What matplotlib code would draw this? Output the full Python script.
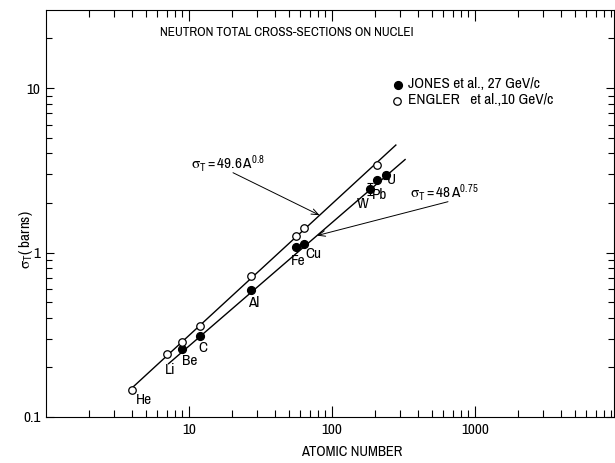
import numpy as np
import matplotlib
matplotlib.use("Agg")
import matplotlib.pyplot as plt
from matplotlib import font_manager
from matplotlib.ticker import LogLocator, NullFormatter, FixedLocator, FixedFormatter

# pick a narrow sans face if one is installed
FAMILY, STRETCH = "DejaVu Sans", "normal"
entries = font_manager.fontManager.ttflist
narrow_names = [e.name for e in entries
                if ("Narrow" in e.name or "Condensed" in e.name)
                and e.style == "normal" and e.weight in (400, "normal", "regular")]
condensed = [e for e in entries
             if str(e.stretch) in ("condensed", "semi-condensed", "extra-condensed")
             and e.style == "normal" and e.weight in (400, "normal", "regular")]
if narrow_names:
    FAMILY = sorted(narrow_names)[0]
elif condensed:
    FAMILY, STRETCH = condensed[0].name, str(condensed[0].stretch)

plt.rcParams["font.family"] = [FAMILY, "DejaVu Sans"]
plt.rcParams["font.stretch"] = STRETCH
plt.rcParams["mathtext.fontset"] = "custom"
plt.rcParams["mathtext.rm"] = f"{FAMILY}:stretch={STRETCH}"
plt.rcParams["mathtext.it"] = f"{FAMILY}:stretch={STRETCH}"
plt.rcParams["mathtext.default"] = "regular"

# ---- data ----
title = "NEUTRON TOTAL CROSS-SECTIONS ON NUCLEI"
engler_label = "ENGLER   et al.,10 GeV/c"
jones_label = "JONES et al., 27 GeV/c"

engler_A = [4, 7, 9, 12, 27, 56, 64, 207]
engler_sigma = [0.145, 0.24, 0.285, 0.355, 0.72, 1.26, 1.40, 3.38]

jones_A = [9, 12, 27, 56, 64, 184, 207, 238]
jones_sigma = [0.26, 0.31, 0.59, 1.08, 1.13, 2.43, 2.77, 2.94]
jones_err = [0, 0, 0, 0, 0, 0.2, 0, 0.15]

elements = ["He", "Li", "Be", "C", "Al", "Fe", "Cu", "W", "Pb", "U"]
element_A = [4, 7, 9, 12, 27, 56, 64, 184, 207, 238]
element_sigma = [0.145, 0.24, 0.26, 0.31, 0.59, 1.08, 1.13, 2.43, 2.77, 2.94]

# fits: sigma_T [mb] = c * A**p, plotted in barns
fit1_c, fit1_p = 49.6, 0.8
fit2_c, fit2_p = 48.0, 0.75
fit1_range = (4, 280)
fit2_range = (7.2, 325)

x_ticks = [10, 100, 1000]
x_ticklabels = ["10", "100", "1000"]
y_ticks = [0.1, 1, 10]
y_ticklabels = ["0.1", "1", "10"]


def fit(c, p, A):
    return c * np.asarray(A) ** p / 1000.0


W, H = 615, 463
FS = 11
fig = plt.figure(figsize=(W / 100, H / 100), dpi=100)
ax = fig.add_axes([46 / W, 1 - 417 / H, (614 - 46) / W, (417 - 10) / H])
ax.set_xscale("log")
ax.set_yscale("log")
ax.set_xlim(1, 9400)
ax.set_ylim(0.1, 29.8)

lw = 1.0
A1 = np.geomspace(*fit1_range, 50)
A2 = np.geomspace(*fit2_range, 50)
ax.plot(A1, fit(fit1_c, fit1_p, A1), color="black", lw=lw)
ax.plot(A2, fit(fit2_c, fit2_p, A2), color="black", lw=lw)

ax.errorbar(jones_A, jones_sigma, yerr=jones_err, fmt="o", ms=5.6,
            mfc="black", mec="black", ecolor="black", elinewidth=0.8,
            capsize=2, capthick=0.8, zorder=4)
ax.plot(engler_A, engler_sigma, "o", ms=5.4, mfc="white", mec="black",
        mew=0.9, zorder=5)

# element labels (offsets in pixels from the point)
label_offsets = {
    "He": (12, -10), "Li": (3.5, -16), "Be": (7, -12), "C": (2.5, -12),
    "Al": (3, -13), "Fe": (2, -13.5), "Cu": (9.5, -10), "W": (-7, -15),
    "Pb": (2.5, -15), "U": (6, -5),
}
for name, a, s in zip(elements, element_A, element_sigma):
    dx, dy = label_offsets[name]
    ax.annotate(name, (a, s), xytext=(dx * 0.72, dy * 0.72),
                textcoords="offset points", ha="center", va="center",
                fontsize=FS)

# legend entries
fig.lines.append(plt.Line2D([398 / W], [1 - 84.5 / H], marker="o", ms=5.6,
                            mfc="black", mec="black", transform=fig.transFigure))
fig.lines.append(plt.Line2D([397 / W], [1 - 100.5 / H], marker="o", ms=5.4,
                            mfc="white", mec="black", mew=0.9,
                            transform=fig.transFigure))
fig.text(408 / W, 1 - 84.5 / H, jones_label, fontsize=FS, va="center")
fig.text(408 / W, 1 - 100.5 / H, engler_label, fontsize=FS, va="center")

# title and axis labels
fig.text(287 / W, 1 - 33 / H, title, fontsize=9.6, ha="center", va="center")
fig.text(352 / W, 1 - 452 / H, "ATOMIC NUMBER", fontsize=10.5, ha="center",
         va="center")
fig.text(26 / W, 1 - 240 / H, r"$\sigma_T$( barns)", fontsize=FS,
         rotation=90, ha="center", va="center")

# fit annotations
arrow = dict(arrowstyle="->,head_length=0.5,head_width=0.2", color="black",
             lw=0.7, shrinkA=0, shrinkB=0)
ax.annotate("", xy=(82, fit(fit1_c, fit1_p, 82)),
            xytext=(233 / W, 1 - 172.7 / H), textcoords="figure fraction",
            arrowprops=arrow)
ax.annotate("", xy=(78.6, fit(fit2_c, fit2_p, 78.6)),
            xytext=(448 / W, 1 - 201.7 / H), textcoords="figure fraction",
            arrowprops=arrow)
fig.text(191 / W, 1 - 163 / H,
         r"$\sigma_T = 49.6\,A^{0.8}$", fontsize=FS, ha="left", va="center")
fig.text(410 / W, 1 - 192 / H,
         r"$\sigma_T{=}48\,A^{0.75}$", fontsize=FS, ha="left", va="center")

# ticks on all four sides, pointing inward
ax.xaxis.set_major_locator(FixedLocator(x_ticks))
ax.xaxis.set_major_formatter(FixedFormatter(x_ticklabels))
ax.xaxis.set_minor_locator(LogLocator(base=10, subs=np.arange(2, 10), numticks=20))
ax.xaxis.set_minor_formatter(NullFormatter())
ax.yaxis.set_major_locator(FixedLocator(y_ticks))
ax.yaxis.set_major_formatter(FixedFormatter(y_ticklabels))
ax.yaxis.set_minor_locator(LogLocator(base=10, subs=np.arange(2, 10), numticks=20))
ax.yaxis.set_minor_formatter(NullFormatter())
ax.tick_params(which="both", direction="in", top=True, right=True,
               labelsize=FS, width=0.8, pad=4)
ax.tick_params(axis="x", which="major", length=8)
ax.tick_params(axis="x", which="minor", length=5)
ax.tick_params(axis="y", which="major", length=6)
ax.tick_params(axis="y", which="minor", length=4)
for sp in ax.spines.values():
    sp.set_linewidth(0.8)

fig.savefig("out.png", dpi=100)
